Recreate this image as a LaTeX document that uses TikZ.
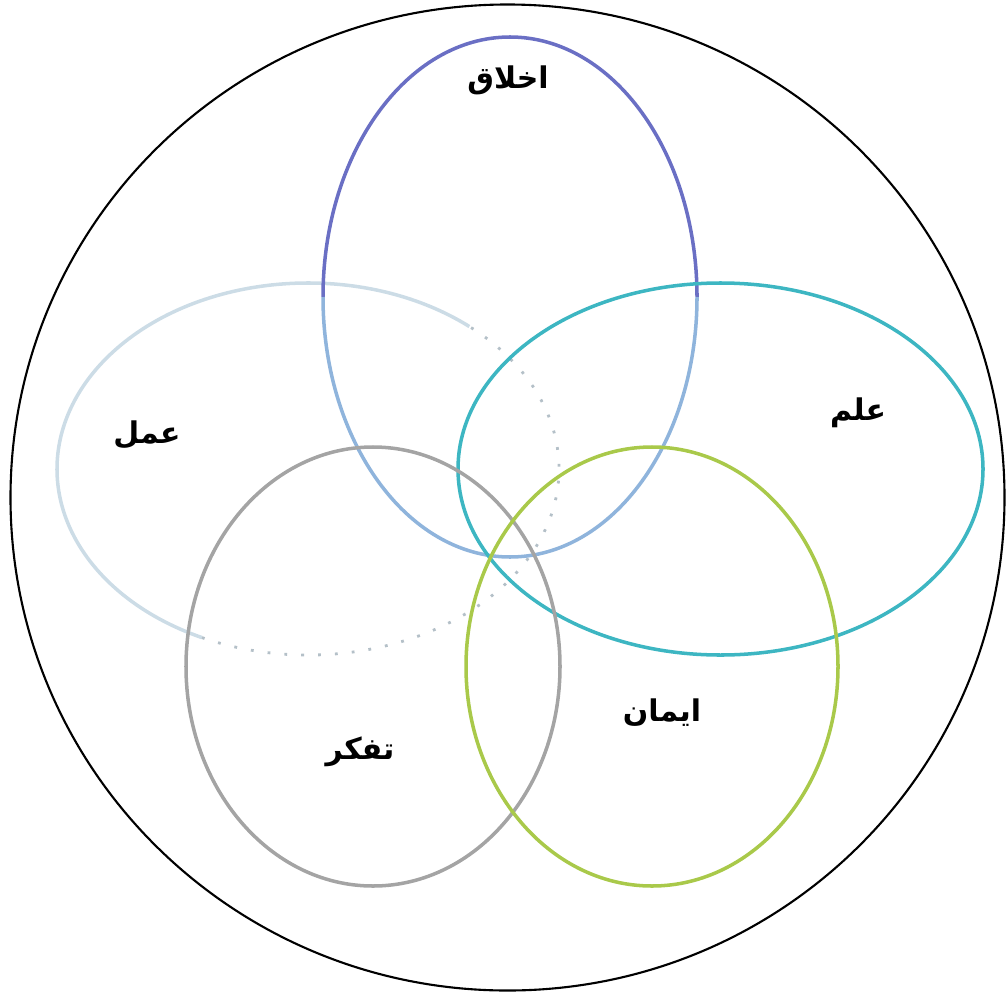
\documentclass[tikz,border=0pt]{standalone}
\usepackage{fontspec}
\usetikzlibrary{calc}
\newfontfamily\arabicfont[Script=Arabic]{DejaVu Sans}
\TeXXeTstate=1
\definecolor{akhlaq}{HTML}{6A6FC4}
\definecolor{akhlaqlow}{HTML}{8FB4DC}
\definecolor{amal}{HTML}{CCDCE6}
\definecolor{amaldot}{HTML}{B4C0C8}
\definecolor{elm}{HTML}{3DB6C2}
\definecolor{tafakor}{HTML}{A4A4A4}
\definecolor{iman}{HTML}{A9C94A}
\begin{document}
\begin{tikzpicture}[x=1cm,y=1cm]
\tikzstyle{label}=[font=\arabicfont\bfseries\fontsize{8.5}{10}\selectfont,inner sep=0pt]
\tikzstyle{ring}=[line width=1pt]
\useasboundingbox (0,0) rectangle (10.08,-9.96);
% outer circle
\draw[line width=0.6pt] (5.075,-4.975) ellipse [x radius=4.97, y radius=4.93];
% the five ellipses
\draw[ring,amal] ($(3.08,-4.69)+(50:2.51 and 1.86)$) arc[start angle=50, end angle=245, x radius=2.51, y radius=1.86];
\draw[amaldot,line width=0.8pt,dash pattern=on 0.8pt off 4pt] ($(3.08,-4.69)+(245:2.51 and 1.86)$) arc[start angle=245, end angle=410, x radius=2.51, y radius=1.86];
\draw[ring,akhlaq] ($(5.10,-2.97)+(0:1.87 and 2.60)$) arc[start angle=0, end angle=180, x radius=1.87, y radius=2.60];
\draw[ring,akhlaqlow] ($(5.10,-2.97)+(180:1.87 and 2.60)$) arc[start angle=180, end angle=360, x radius=1.87, y radius=2.60];
\draw[ring,elm] (7.205,-4.69) ellipse [x radius=2.625, y radius=1.86];
\draw[ring,tafakor] (3.73,-6.665) ellipse [x radius=1.87, y radius=2.195];
\draw[ring,iman] (6.52,-6.665) ellipse [x radius=1.86, y radius=2.195];
% labels
\node[label] (akh) at (5.08,-0.80) {\beginR اخلاق\endR};
\node[label] (aml) at (1.47,-4.35) {\beginR عمل\endR};
\node[label] (elm) at (8.58,-4.13) {\beginR علم\endR};
\node[label] (imn) at (6.62,-7.13) {\beginR ایمان\endR};
\node[label] (tfk) at (3.60,-7.52) {\beginR تفکر\endR};
\end{tikzpicture}
\end{document}
